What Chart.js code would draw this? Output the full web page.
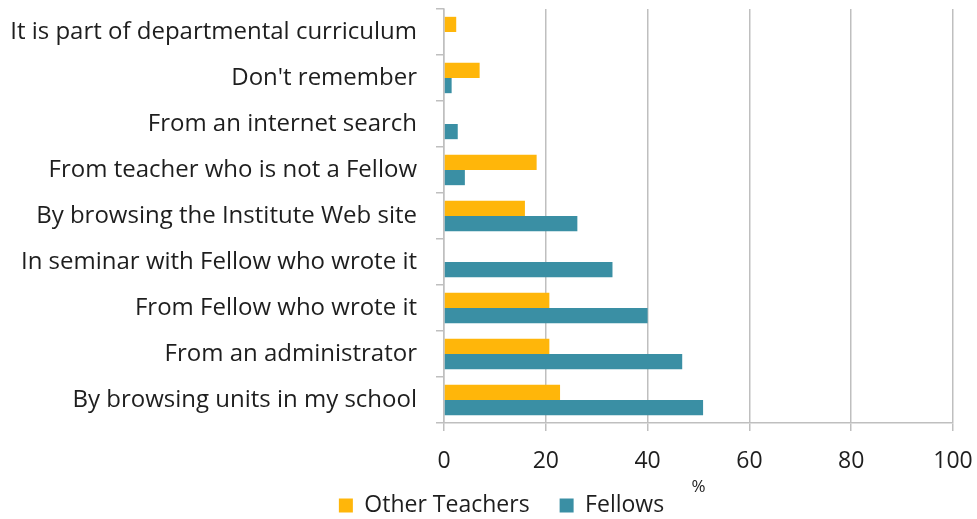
<!DOCTYPE html>
<html>
<head>
<meta charset="utf-8">
<script src="https://cdn.jsdelivr.net/npm/chart.js@4"></script>
<style>
  html, body { margin: 0; padding: 0; background: #fff; }
  #wrap { width: 977px; height: 519px; }
</style>
</head>
<body>
<div id="wrap"><canvas id="c" width="977" height="519"></canvas></div>
<script>
// how teachers found the unit, % per group
const categorias = [
  'It is part of departmental curriculum',
  "Don't remember",
  'From an internet search',
  'From teacher who is not a Fellow',
  'By browsing the Institute Web site',
  'In seminar with Fellow who wrote it',
  'From Fellow who wrote it',
  'From an administrator',
  'By browsing units in my school'
];
const outrosProfessores = [2.4, 7.0, 0, 18.2, 15.9, 0, 20.7, 20.7, 22.8];
const fellows = [0, 1.5, 2.7, 4.1, 26.2, 33.1, 40.0, 46.8, 50.9];
const ticksX = [0, 20, 40, 60, 80, 100];

const fonte = '"Open Sans", sans-serif';
const cinza = '#bfbfbf';
const texto = '#1e1e1e';

// legenda um pouco à direita e mais perto do eixo
const ajusteLegenda = {
  id: 'ajusteLegenda',
  afterLayout(chart) {
    const lg = chart.legend;
    lg.left += 50;
    lg.top -= 8;
  }
};

new Chart(document.getElementById('c'), {
  type: 'bar',
  data: {
    labels: categorias,
    datasets: [
      { label: 'Other Teachers', data: outrosProfessores, backgroundColor: '#ffb60a' },
      { label: 'Fellows', data: fellows, backgroundColor: '#3a8fa4' }
    ]
  },
  plugins: [ajusteLegenda],
  options: {
    indexAxis: 'y',
    responsive: false,
    animation: false,
    layout: { padding: { top: 9, right: 24, left: 0, bottom: 0 } },
    datasets: { bar: { categoryPercentage: 0.66, barPercentage: 1 } },
    plugins: {
      tooltip: { enabled: false },
      legend: {
        position: 'bottom',
        maxHeight: 47,
        labels: {
          font: { family: fonte, size: 23 }, color: texto,
          boxWidth: 14, boxHeight: 14, padding: 30
        }
      }
    },
    scales: {
      x: {
        min: 0, max: 100,
        afterBuildTicks: (ax) => { ax.ticks = ticksX.map(v => ({ value: v })); },
        afterFit: (ax) => { ax.height = 49; ax.paddingLeft = 0; ax.paddingRight = 0; },
        grid: { color: cinza, lineWidth: 1.5, tickLength: 8 },
        border: { color: cinza, width: 1.5 },
        ticks: { font: { family: fonte, size: 23 }, color: texto, padding: 17 },
        title: { display: true, text: '%', font: { family: fonte, size: 17 }, color: texto, padding: { top: 0, bottom: -25 } }
      },
      y: {
        afterFit: (ax) => { ax.width = 444; ax.paddingTop = 0; ax.paddingBottom = 0; },
        grid: { drawOnChartArea: false, color: cinza, lineWidth: 1.5, tickLength: 8 },
        border: { color: cinza, width: 1.5 },
        ticks: { font: { family: fonte, size: 24 }, color: texto, padding: 19, autoSkip: false }
      }
    }
  }
});
</script>
</body>
</html>
